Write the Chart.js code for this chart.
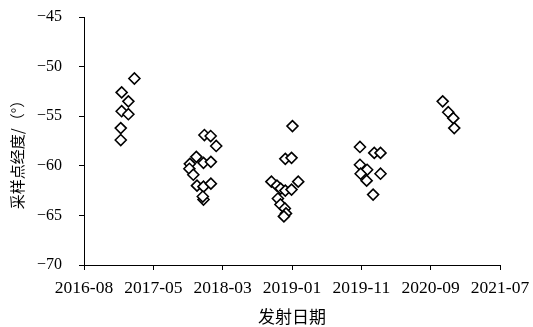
<!DOCTYPE html>
<html>
<head>
<meta charset="utf-8">
<script src="https://cdn.jsdelivr.net/npm/chart.js@4/dist/chart.umd.min.js"></script>
<style>
html,body{margin:0;padding:0;background:#fff;}
#wrap{width:533px;height:327px;}
</style>
</head>
<body>
<div id="wrap"><canvas id="c" width="533" height="327"></canvas></div>
<script>
// Launch dates (x) and sampling-point longitudes (y)
const launchDates = [
  '2017-03-07','2017-01-11','2017-02-09','2017-01-11','2017-02-09','2017-01-07','2017-01-07',
  '2018-01-04','2018-01-31','2018-02-24','2017-11-30','2017-12-31','2018-02-01','2017-11-02',
  '2017-10-31','2017-11-17','2017-12-03','2017-12-31','2018-02-01','2017-12-31','2017-12-28',
  '2019-01-20','2018-12-20','2019-01-16','2018-10-21','2018-11-14','2018-11-30','2018-12-20',
  '2019-01-16','2019-02-14','2018-11-18','2018-11-29','2018-12-18','2018-12-23','2018-12-14',
  '2019-11-08','2020-01-09','2020-02-05','2019-11-08','2019-12-09','2019-11-11','2020-02-05',
  '2019-12-07','2020-01-04',
  '2020-10-31','2020-11-24','2020-12-16','2020-12-20'
];
const longitudes = [
  -51.2,-52.6,-53.5,-54.5,-54.8,-56.2,-57.4,
  -56.9,-57.0,-58.0,-59.1,-59.7,-59.6,-59.8,
  -60.3,-60.9,-62.0,-62.1,-61.8,-63.4,-63.1,
  -56.0,-59.3,-59.2,-61.6,-62.0,-62.3,-62.5,
  -62.4,-61.6,-63.3,-63.9,-64.3,-64.8,-65.1,
  -58.1,-58.7,-58.7,-59.9,-60.4,-60.8,-60.8,
  -61.5,-62.9,
  -53.5,-54.6,-55.2,-56.2
];
const xTickLabels = ['2016-08','2017-05','2018-03','2019-01','2019-11','2020-09','2021-07'];
const xStartDate = '2016-08-01';
const xStepDays = 300;
const yTickValues = [-70,-65,-60,-55,-50,-45];
const xTitle = '发射日期';
const yTitle = '采样点经度/（°）';

const DAY = 86400000;
const t0 = Date.parse(xStartDate);
const points = launchDates.map((d,i)=>({x: Date.parse(d), y: longitudes[i]}));

const serif = "'Liberation Serif','Times New Roman',serif";
const cjk = "'Noto Sans CJK SC',sans-serif";

// y-axis title drawn beside the axis, slightly below its centre as in the source figure
const yTitlePlugin = {
  id: 'yTitle',
  afterDraw(chart) {
    const ctx = chart.ctx;
    const area = chart.chartArea;
    ctx.save();
    ctx.font = "15px " + cjk;
    ctx.fillStyle = '#000';
    ctx.textAlign = 'center';
    ctx.textBaseline = 'middle';
    ctx.translate(17.5, (area.top + area.bottom) / 2 + 10);
    ctx.rotate(-Math.PI / 2);
    ctx.fillText(yTitle, 0, 0);
    ctx.restore();
  }
};

new Chart(document.getElementById('c'), {
  type: 'scatter',
  data: { datasets: [{
    data: points,
    pointStyle: 'rectRot',
    pointRadius: 5.5,
    pointHoverRadius: 5.5,
    borderColor: '#000',
    backgroundColor: '#fff',
    borderWidth: 1.6
  }]},
  plugins: [yTitlePlugin],
  options: {
    responsive: false,
    animation: false,
    events: [],
    layout: { padding: { left: 0, right: 33, top: 17, bottom: 0 } },
    plugins: { legend: {display:false}, tooltip: {enabled:false} },
    scales: {
      x: {
        type: 'linear',
        min: t0,
        max: t0 + xStepDays*DAY*(xTickLabels.length-1),
        afterBuildTicks: s => { s.ticks = xTickLabels.map((l,i)=>({value: t0 + i*xStepDays*DAY})); },
        afterFit: s => { s.height = 62; s.paddingLeft = 0; s.paddingRight = 0; },
        ticks: {
          autoSkip: false, maxRotation: 0, minRotation: 0,
          color: '#000', padding: 8,
          font: { family: serif, size: 17.5 },
          callback: (v, i) => xTickLabels[i]
        },
        grid: { drawOnChartArea: false, drawTicks: true, tickLength: 5, color: '#000', lineWidth: 1 },
        border: { display: true, color: '#000', width: 1 },
        title: { display: true, text: xTitle, color: '#000', font: { family: cjk, size: 17 }, padding: {top: 0, bottom: 0} }
      },
      y: {
        type: 'linear',
        min: -70, max: -45,
        afterBuildTicks: s => { s.ticks = yTickValues.map(v=>({value:v})); },
        afterFit: s => { s.width = 84; s.paddingTop = 0; s.paddingBottom = 0; },
        ticks: {
          color: '#000', padding: 17,
          font: { family: serif, size: 16 },
          callback: v => String(v).replace('-', '\u2212')
        },
        grid: { drawOnChartArea: false, drawTicks: true, tickLength: 5, color: '#000', lineWidth: 1 },
        border: { display: true, color: '#000', width: 1 },
        title: { display: false }
      }
    }
  }
});
</script>
</body>
</html>
